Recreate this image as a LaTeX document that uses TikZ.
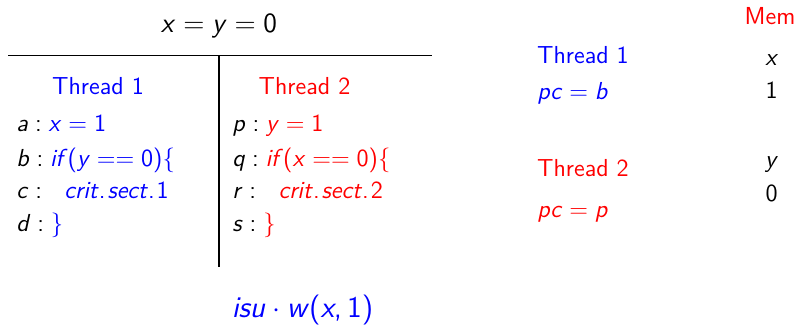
\documentclass[tikz,border=0pt]{standalone}
\renewcommand{\familydefault}{\sfdefault}
\newcommand{\rel}[1]{\hspace{0.278em}#1\hspace{0.278em}}
\newcommand{\vv}[1]{\textit{#1}}
\newcommand{\dt}{\textup{.}\hspace{0.08em}}
\begin{document}
\begin{tikzpicture}[x=0.5pt,y=-0.5pt,
  every node/.style={inner sep=0pt, font=\fontsize{12.3}{15}\selectfont},
  txt/.style={anchor=base west},
  ctr/.style={anchor=base},
  rule/.style={line width=0.7pt}]
\useasboundingbox (0,0) rectangle (797,325);
% left: program
\node[ctr, font=\fontsize{13.9}{17}\selectfont] (init) at (219,33) {\vv{x}\rel{=}\vv{y}\rel{=}0};
\coordinate (hl) at (8,55.7);
\coordinate (hr) at (432,55.7);
\coordinate (vt) at (219,55.7);
\coordinate (vb) at (219,266.7);
\draw[rule] (hl) -- (hr);
\draw[rule] (vt) -- (vb);
\node[ctr, text=blue] (t1) at (98,95) {Thread 1};
\node[ctr, text=red] (t2) at (304.5,95) {Thread 2};
\node[txt] (la) at (16,131.7) {\vv{a}\rel{:}{\color{blue}\vv{x}\rel{=}1}};
\node[txt] (lb) at (16,166.2) {\vv{b}\rel{:}{\color{blue}\vv{if}(\vv{y}\rel{==}0)\{}};
\node[txt] (lc) at (16,199) {\vv{c}\rel{:}\hspace{7.8pt}{\color{blue}\vv{crit}\dt\vv{sect}\dt 1}};
\node[txt] (ld) at (16,231.7) {\vv{d}\rel{:}{\color{blue}\}}};
\node[txt] (lp) at (232,131.7) {\vv{p}\rel{:}{\color{red}\vv{y}\rel{=}1}};
\node[txt] (lq) at (232,166.2) {\vv{q}\rel{:}{\color{red}\vv{if}(\vv{x}\rel{==}0)\{}};
\node[txt] (lr) at (232,199) {\vv{r}\rel{:}\hspace{7.8pt}{\color{red}\vv{crit}\dt\vv{sect}\dt 2}};
\node[txt] (ls) at (232,231.7) {\vv{s}\rel{:}{\color{red}\}}};
% bottom label
\node[ctr, text=blue, font=\fontsize{15}{18}\selectfont] (isu) at (302.5,318) {\vv{isu}\hspace{0.222em}$\cdot$\hspace{0.222em}\vv{w}(\vv{x},\hspace{0.167em}1)};
% right: state
\node[txt, text=blue] (s1) at (536.7,64) {Thread 1};
\node[txt, text=blue] (pc1) at (537,100) {\vv{pc}\rel{=}\vv{b}};
\node[txt, text=red] (s2) at (536.7,176.7) {Thread 2};
\node[txt, text=red] (pc2) at (537,218) {\vv{pc}\rel{=}\vv{p}};
\node[ctr, text=red] (mem) at (770,25) {Mem};
\node[ctr] (mx) at (771.7,66) {\vv{x}};
\node[ctr] (vx) at (771.7,99) {1};
\node[ctr] (my) at (771.7,168) {\vv{y}};
\node[ctr] (vy) at (771.7,202) {0};
\end{tikzpicture}
\end{document}
